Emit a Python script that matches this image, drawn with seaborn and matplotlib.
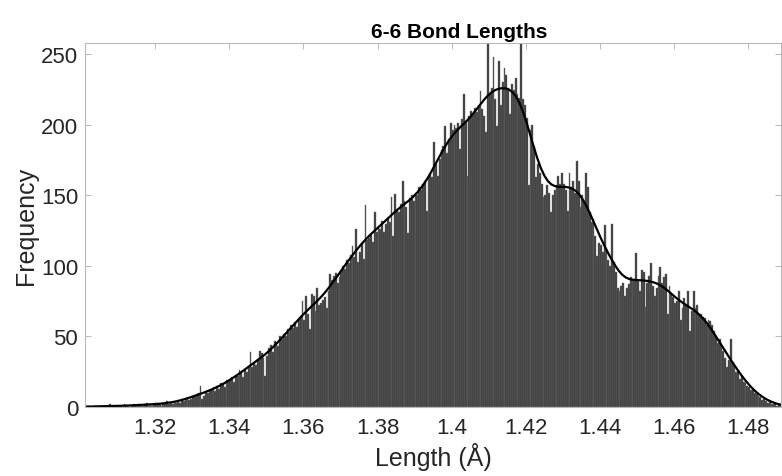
import numpy as np
import pandas as pd
import matplotlib
matplotlib.use("Agg")
import matplotlib.pyplot as plt
import seaborn as sns

# ---- data (counts per 0.0005 Å bin, starting at 1.300 Å) ----
bin_start = 1.300
bin_width = 0.0005
counts = [
    0, 0, 1, 0, 1, 0, 0, 1, 0, 0,
    1, 0, 1, 0, 0, 2, 1, 0, 1, 0,
    1, 1, 0, 2, 1, 1, 0, 1, 2, 1,
    1, 2, 1, 1, 2, 3, 1, 2, 1, 2,
    2, 3, 2, 1, 3, 2, 4, 2, 3, 2,
    4, 3, 5, 3, 6, 4, 5, 7, 5, 6,
    8, 7, 9, 10, 15, 6, 8, 11, 10, 12,
    12, 14, 11, 15, 13, 17, 16, 14, 19, 18,
    19, 21, 18, 23, 22, 26, 24, 21, 27, 25,
    29, 39, 28, 31, 30, 34, 40, 38, 35, 22,
    36, 42, 44, 39, 47, 45, 43, 50, 48, 52,
    50, 55, 53, 58, 56, 60, 57, 62, 64, 75,
    62, 79, 66, 55, 80, 79, 68, 84, 72, 74,
    76, 78, 70, 82, 94, 90, 93, 95, 88, 92,
    96, 100, 98, 104, 102, 108, 114, 106, 126, 103,
    110, 116, 105, 143, 118, 120, 122, 117, 138, 124,
    128, 126, 132, 124, 130, 134, 131, 149, 121, 151,
    140, 138, 144, 160, 146, 142, 123, 148, 150, 146,
    152, 150, 156, 154, 158, 160, 139, 162, 165, 163,
    188, 172, 164, 176, 182, 185, 199, 180, 190, 201,
    196, 200, 198, 201, 183, 204, 222, 203, 164, 206,
    210, 208, 212, 209, 214, 224, 211, 206, 195, 270,
    222, 226, 248, 218, 199, 245, 214, 230, 240, 235,
    226, 208, 229, 225, 233, 222, 219, 275, 218, 214,
    205, 157, 196, 200, 185, 163, 172, 166, 158, 149,
    150, 157, 152, 138, 150, 154, 157, 164, 158, 166,
    158, 154, 139, 166, 156, 160, 152, 174, 160, 142,
    150, 146, 166, 156, 138, 131, 133, 121, 107, 116,
    115, 110, 129, 112, 104, 100, 130, 103, 96, 84,
    82, 86, 88, 79, 84, 87, 92, 90, 89, 109,
    90, 82, 97, 96, 71, 88, 93, 102, 86, 79,
    84, 93, 99, 88, 92, 94, 66, 86, 80, 78,
    74, 75, 82, 62, 70, 77, 72, 82, 54, 68,
    82, 70, 72, 65, 66, 64, 63, 58, 62, 61,
    58, 54, 50, 45, 48, 43, 40, 35, 28, 33,
    48, 32, 30, 25, 26, 20, 22, 18, 17, 15,
    14, 12, 13, 10, 9, 8, 7, 5, 6, 4,
    3, 4, 2, 2, 3, 1, 2, 1, 1, 0,
]
x_ticks = [1.32, 1.34, 1.36, 1.38, 1.40, 1.42, 1.44, 1.46, 1.48]
x_tick_labels = ["1.32", "1.34", "1.36", "1.38", "1.4", "1.42", "1.44", "1.46", "1.48"]
y_ticks = [0, 50, 100, 150, 200, 250]
title = "6-6 Bond Lengths"
x_label = "Length (Å)"
y_label = "Frequency"

n_bins = len(counts)
centers = bin_start + bin_width * (np.arange(n_bins) + 0.5)
df = pd.DataFrame({"length": centers, "count": counts})

sns.set_theme(style="white")
plt.rcParams["font.family"] = ["Liberation Sans", "DejaVu Sans"]

fig = plt.figure(figsize=(7.82, 4.77), dpi=100)
ax = fig.add_axes([0.1087, 0.1447, 0.8900, 0.7631])

sns.histplot(
    data=df, x="length", weights="count",
    binwidth=bin_width, binrange=(bin_start, bin_start + bin_width * n_bins),
    kde=True, kde_kws={"bw_adjust": 0.27},
    color="#3b3b3b", edgecolor="#6e6e6e", linewidth=0.3, alpha=1.0,
    line_kws={"linewidth": 1.6}, ax=ax,
)
for ln in ax.lines:
    ln.set_color("black")

ax.set_xlim(1.3011, 1.4888)
ax.set_ylim(0, 258)
ax.set_xticks(x_ticks)
ax.set_xticklabels(x_tick_labels)
ax.set_yticks(y_ticks)

ax.tick_params(axis="both", which="both", direction="in", length=4, width=0.6,
               colors="#b0b0b0", labelcolor="#262626", labelsize=16,
               top=True, right=True, bottom=True, left=True)
ax.tick_params(axis="x", pad=7)
ax.tick_params(axis="y", pad=5)
for side in ["top", "bottom", "left", "right"]:
    ax.spines[side].set_visible(True)
    ax.spines[side].set_color("#b8b8b8")
    ax.spines[side].set_linewidth(0.8)

ax.set_xlabel(x_label, fontsize=18, color="#262626", labelpad=3)
ax.set_ylabel(y_label, fontsize=18, color="#262626", labelpad=2)
ax.set_title(title, fontsize=15, fontweight="bold", color="black", pad=4, x=0.538)

fig.savefig("out.png", dpi=100)
